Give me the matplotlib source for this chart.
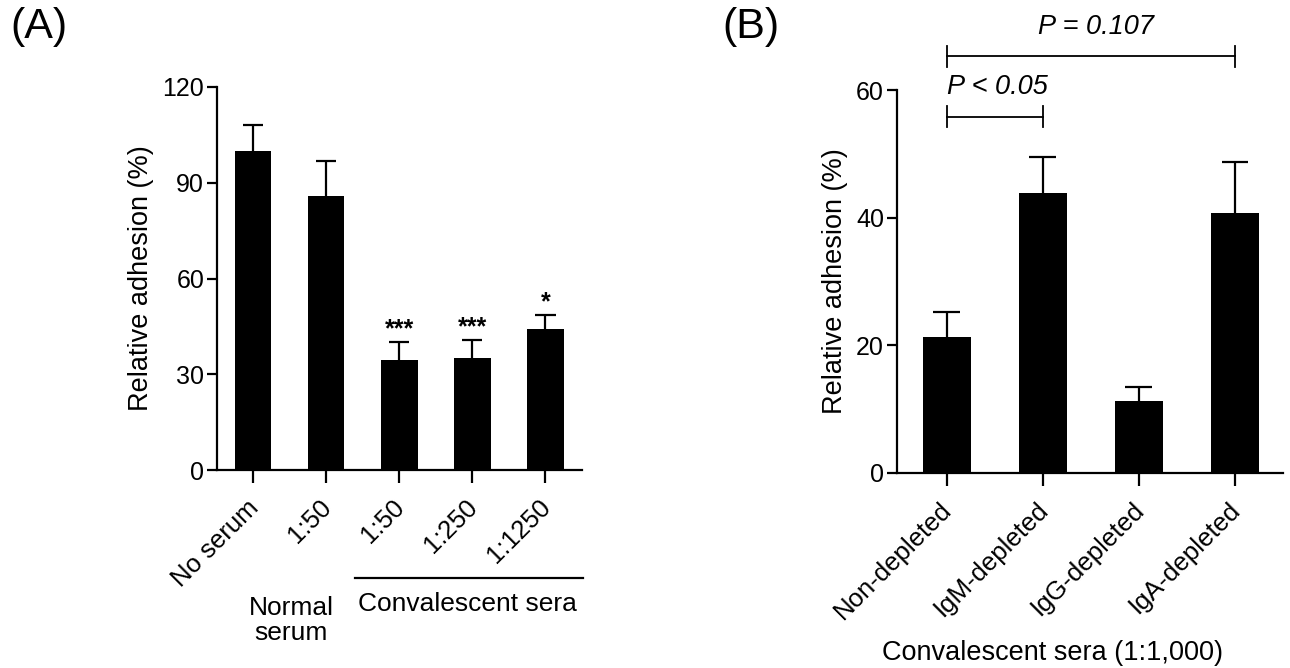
import numpy as np
import matplotlib
matplotlib.use("Agg")
import matplotlib.pyplot as plt
from matplotlib.transforms import ScaledTranslation

plt.rcParams['font.family'] = ['Liberation Sans', 'DejaVu Sans']

# ---- panel A data ----
a_labels = ["No serum", "1:50", "1:50", "1:250", "1:1250"]
a_means = [100, 85.9, 34.5, 35.0, 44.2]
a_errs = [8.0, 11.0, 5.6, 5.7, 4.4]
a_stars = ["", "", "***", "***", "*"]

# ---- panel B data ----
b_labels = ["Non-depleted", "IgM-depleted", "IgG-depleted", "IgA-depleted"]
b_means = [21.3, 43.9, 11.3, 40.8]
b_errs = [4.0, 5.6, 2.1, 7.9]

fig = plt.figure(figsize=(12.9, 6.68), dpi=100)
axA = fig.add_axes([0.168, 0.296, 0.283, 0.574])
axB = fig.add_axes([0.695, 0.292, 0.2996, 0.573])


def style(ax):
    for s in ["top", "right"]:
        ax.spines[s].set_visible(False)
    for s in ["left", "bottom"]:
        ax.spines[s].set_linewidth(1.6)
    ax.tick_params(axis="y", direction="out", width=1.6, length=7,
                   labelsize=18, pad=2)
    ax.tick_params(axis="x", direction="out", width=1.6, length=9,
                   labelsize=18.5, pad=9)


def bars(ax, means, errs):
    x = np.arange(len(means))
    means = np.array(means)
    tops = means + np.array(errs)
    ax.bar(x, means, width=0.5, color="black", zorder=2)
    # upper error bars only
    ax.vlines(x, means, tops, color="black", lw=1.6, zorder=1)
    ax.hlines(tops, x - 0.14, x + 0.14, color="black", lw=1.6, zorder=1)
    return x


def rot_labels(ax, labels):
    ax.set_xticklabels(labels, rotation=45, ha="right", va="top",
                       rotation_mode="anchor")
    shift = ScaledTranslation(-5 / 72, 0, fig.dpi_scale_trans)
    for lab in ax.get_xticklabels():
        lab.set_transform(lab.get_transform() + shift)


# ---------------- panel A ----------------
style(axA)
xa = bars(axA, a_means, a_errs)
axA.set_xlim(-0.5, 4.5)
axA.set_ylim(0, 120)
axA.set_yticks([0, 30, 60, 90, 120])
axA.set_xticks(xa)
rot_labels(axA, a_labels)
axA.set_ylabel("Relative adhesion (%)", fontsize=19.5, labelpad=6)
for xi, m, e, s in zip(xa, a_means, a_errs, a_stars):
    if s:
        axA.text(xi, m + e + 0.3, s, ha="center", va="bottom", fontsize=18,
                 fontweight="bold")

tr = axA.get_xaxis_transform()
axA.plot([1.4, 4.52], [-0.282, -0.282], color="black", lw=1.6,
         transform=tr, clip_on=False)
axA.text(2.93, -0.35, "Convalescent sera", ha="center", va="center",
         fontsize=19, transform=tr)
axA.text(0.52, -0.392, "Normal\nserum", ha="center", va="center",
         fontsize=19, transform=tr, linespacing=1.05)

# ---------------- panel B ----------------
style(axB)
xb = bars(axB, b_means, b_errs)
axB.set_xlim(-0.52, 3.5)
axB.set_ylim(0, 60)
axB.set_yticks([0, 20, 40, 60])
axB.set_xticks(xb)
rot_labels(axB, b_labels)
axB.set_ylabel("Relative adhesion (%)", fontsize=19.5, labelpad=6)
axB.text(1.1, -0.47, "Convalescent sera (1:1,000)", ha="center",
         va="center", fontsize=19.5, transform=axB.get_xaxis_transform())

# significance brackets
for x0, x1, y, half, label, tx, ha in [
        (0, 1, 55.8, 1.65, "P < 0.05", 0.0, "left"),
        (0, 3, 65.3, 1.6, "P = 0.107", 1.55, "center")]:
    axB.plot([x0, x1], [y, y], color="black", lw=1.3, clip_on=False)
    for xx in (x0, x1):
        axB.plot([xx, xx], [y - half, y + half], color="black", lw=1.3,
                 clip_on=False)
    axB.text(tx, y + 2.6, label, ha=ha, va="bottom", fontsize=19.5,
             style="italic")

# panel letters
fig.text(0.008, 0.99, "(A)", fontsize=31, ha="left", va="top")
fig.text(0.560, 0.99, "(B)", fontsize=31, ha="left", va="top")

fig.savefig("out.png", dpi=100)
